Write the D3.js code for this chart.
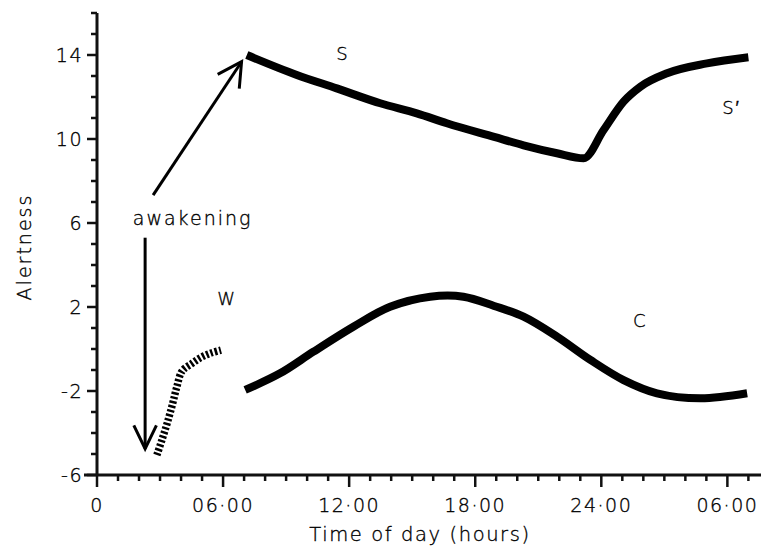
<!DOCTYPE html>
<html>
<head>
<meta charset="utf-8">
<script src="https://cdn.jsdelivr.net/npm/d3@7"></script>
<style>
  body { margin: 0; background: #fff; }
  text { font-family: "DejaVu Sans", sans-serif; font-weight: 200; fill: #000; stroke: #000; stroke-width: 0.35; }
</style>
</head>
<body>
<div id="chart"></div>
<script>
// Chart values (hours since midnight, alertness units)
var sHours = [7.13, 9.51, 11.41, 13.48, 15.22, 16.65, 18.9, 20.3, 21.89, 23.16, 24.11, 25.06, 25.86, 27.13, 29.03, 31.0];
var sAlert = [14.0, 13.05, 12.41, 11.7, 11.22, 10.75, 10.1, 9.7, 9.32, 9.08, 10.43, 11.78, 12.49, 13.13, 13.6, 13.89];

var cHours = [7.05, 8.71, 10.3, 12.2, 13.95, 15.86, 17.44, 18.9, 20.3, 21.89, 23.48, 25.06, 26.65, 28.71, 30.94];
var cAlert = [-1.95, -1.16, -0.13, 1.06, 2.01, 2.49, 2.49, 2.05, 1.54, 0.59, -0.52, -1.48, -2.11, -2.35, -2.11];

var wHours = [2.85, 3.1, 3.35, 3.6, 3.8, 4.05, 4.5, 4.95, 5.4, 5.9];
var wAlert = [-5.05, -4.3, -3.5, -2.6, -1.8, -1.05, -0.7, -0.4, -0.2, -0.05];

var xTickHours = [0, 6, 12, 18, 24, 30];
var xTickLabels = ["0", "06·00", "12·00", "18·00", "24·00", "06·00"];
var yTickValues = [14, 10, 6, 2, -2, -6];
var yTickLabels = ["14", "10", "6", "2", "-2", "-6"];

// Canvas
var svgWidth = 763;
var svgHeight = 549;

var svg = d3.select("#chart")
  .append("svg")
    .attr("width", svgWidth)
    .attr("height", svgHeight);

var xScale = d3.scaleLinear().domain([0, 31.6]).range([97, 761]);
var yScale = d3.scaleLinear().domain([-6, 16]).range([475, 13]);

// x axis: hourly minor ticks, labelled majors every 6 h
var minorX = d3.range(0, 32);
var xAxisG = svg.append("g");
xAxisG.append("line")
  .attr("x1", xScale(0) - 13).attr("x2", xScale(31.6))
  .attr("y1", yScale(-6)).attr("y2", yScale(-6))
  .attr("stroke", "#111").attr("stroke-width", 3);
xAxisG.selectAll("line.tick")
  .data(minorX)
  .enter()
  .append("line")
  .attr("class", "tick")
  .attr("x1", d => xScale(d)).attr("x2", d => xScale(d))
  .attr("y1", yScale(-6))
  .attr("y2", d => yScale(-6) + (d % 6 === 0 ? 12 : 6))
  .attr("stroke", "#111").attr("stroke-width", 2.5);
xAxisG.selectAll("text.tl")
  .data(xTickHours)
  .enter()
  .append("text")
  .attr("class", "tl")
  .attr("x", d => xScale(d))
  .attr("y", 512)
  .attr("text-anchor", "middle")
  .style("font-size", "19px")
  .style("letter-spacing", "1.5px")
  .text((d, i) => xTickLabels[i]);

// y axis: minor ticks every unit
var minorY = d3.range(-6, 17);
var yAxisG = svg.append("g");
yAxisG.append("line")
  .attr("x1", xScale(0)).attr("x2", xScale(0))
  .attr("y1", yScale(16)).attr("y2", yScale(-6))
  .attr("stroke", "#111").attr("stroke-width", 3);
yAxisG.selectAll("line.tick")
  .data(minorY)
  .enter()
  .append("line")
  .attr("class", "tick")
  .attr("y1", d => yScale(d)).attr("y2", d => yScale(d))
  .attr("x1", xScale(0))
  .attr("x2", d => xScale(0) - (yTickValues.indexOf(d) >= 0 ? 10 : 6))
  .attr("stroke", "#111").attr("stroke-width", 2.5);
yAxisG.selectAll("text.tl")
  .data(yTickValues)
  .enter()
  .append("text")
  .attr("class", "tl")
  .attr("x", 83)
  .attr("y", d => yScale(d) + 7)
  .attr("text-anchor", "end")
  .style("font-size", "19px")
  .style("letter-spacing", "1.5px")
  .text((d, i) => yTickLabels[i]);

// Axis titles
svg.append("text")
  .attr("transform", "translate(31, 247) rotate(-90)")
  .attr("text-anchor", "middle")
  .style("font-size", "19px")
  .style("letter-spacing", "2px")
  .text("Alertness");

svg.append("text")
  .attr("x", 420)
  .attr("y", 541)
  .attr("text-anchor", "middle")
  .style("font-size", "19.5px")
  .style("letter-spacing", "1.6px")
  .text("Time of day (hours)");

// Curves
var line = d3.line()
  .x(d => xScale(d[0]))
  .y(d => yScale(d[1]))
  .curve(d3.curveCatmullRom.alpha(0.5));

// S has a sharp turn at sleep onset, monotone keeps it from dipping
var sLine = d3.line()
  .x(d => xScale(d[0]))
  .y(d => yScale(d[1]))
  .curve(d3.curveMonotoneX);

svg.append("path")
  .datum(d3.zip(sHours, sAlert))
  .attr("d", sLine)
  .attr("fill", "none")
  .attr("stroke", "#000")
  .attr("stroke-width", 8);

svg.append("path")
  .datum(d3.zip(cHours, cAlert))
  .attr("d", line)
  .attr("fill", "none")
  .attr("stroke", "#000")
  .attr("stroke-width", 8);

svg.append("path")
  .datum(d3.zip(wHours, wAlert))
  .attr("d", line)
  .attr("fill", "none")
  .attr("stroke", "#000")
  .attr("stroke-width", 7.5)
  .attr("stroke-dasharray", "2.5 2");

// Arrows (in data units)
function arrow(x0, y0, x1, y1, len, spread) {
  var px0 = xScale(x0), py0 = yScale(y0), px1 = xScale(x1), py1 = yScale(y1);
  var ang = Math.atan2(py0 - py1, px0 - px1);
  var g = svg.append("g").attr("stroke", "#000").attr("stroke-width", 3).attr("fill", "none");
  g.append("line").attr("x1", px0).attr("y1", py0).attr("x2", px1).attr("y2", py1);
  g.append("path")
    .attr("d", "M" + (px1 + len * Math.cos(ang + spread)) + "," + (py1 + len * Math.sin(ang + spread)) +
      "L" + px1 + "," + py1 +
      "L" + (px1 + len * Math.cos(ang - spread)) + "," + (py1 + len * Math.sin(ang - spread)));
}
arrow(2.67, 7.33, 6.88, 13.68, 27, 0.5);
arrow(2.29, 5.3, 2.29, -4.75, 26, 0.45);

// Annotation labels
function label(x, y, t, size) {
  svg.append("text")
    .attr("x", xScale(x)).attr("y", yScale(y))
    .attr("text-anchor", "middle")
    .style("font-size", size)
    .style("letter-spacing", "2px")
    .text(t);
}
label(4.55, 5.9, "awakening", "19px");
label(11.7, 13.75, "S", "18px");
label(30.2, 11.2, "S′", "18px");
label(6.2, 2.1, "W", "18px");
label(25.86, 1.05, "C", "18px");
</script>
</body>
</html>
